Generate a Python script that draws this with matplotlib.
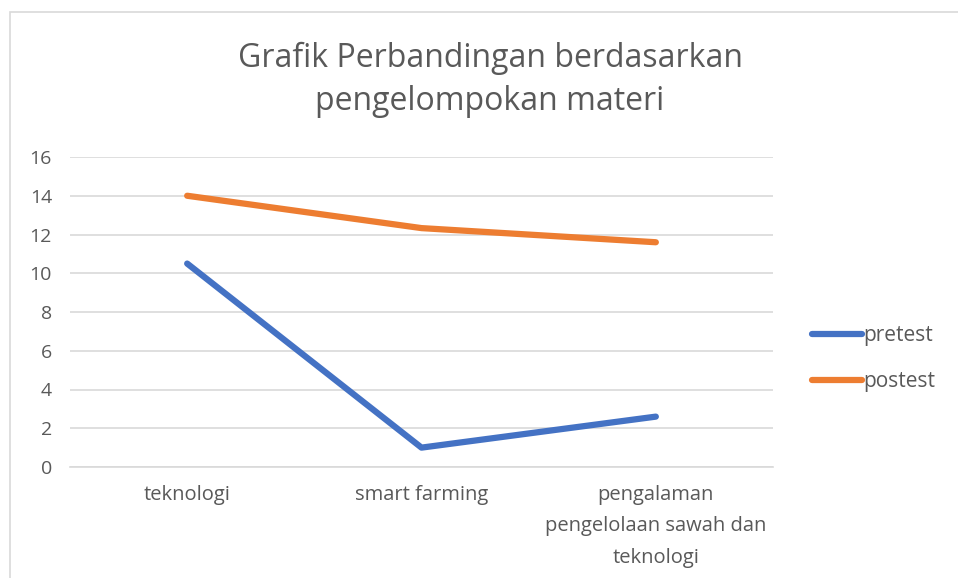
import matplotlib
matplotlib.use("Agg")
import matplotlib.pyplot as plt
from matplotlib.patches import Rectangle

categories = ["teknologi", "smart farming", "pengalaman\npengelolaan sawah dan\nteknologi"]
pretest = [10.5, 1.0, 2.6]
postest = [14.0, 12.33, 11.6]
yticks = [0, 2, 4, 6, 8, 10, 12, 14, 16]

plt.rcParams['font.family'] = ['Open Sans', 'DejaVu Sans']

fig = plt.figure(figsize=(9.58, 5.78), dpi=100)
ax = fig.add_axes([70/958, 111/578, 703/958, 310/578])

# chart area border (cut off at right/bottom like the screenshot)
fig.add_artist(Rectangle((10/958, -0.1), 1.2, 1 - 12/578 + 0.1, transform=fig.transFigure,
                         fill=False, edgecolor='#d9d9d9', linewidth=1.2))

x = range(len(categories))
ax.plot(x, pretest, color='#4472c4', linewidth=4.5, solid_capstyle='round', label='pretest')
ax.plot(x, postest, color='#ed7d31', linewidth=4.5, solid_capstyle='round', label='postest')

ax.set_xlim(-0.5, 2.5)
ax.set_ylim(0, 16)
ax.set_yticks(yticks)
ax.set_xticks(list(x))
ax.set_xticklabels(categories, fontsize=14.5, color='#595959', linespacing=1.75)
ax.tick_params(axis='y', labelsize=14, labelcolor='#595959', length=0, pad=13)
ax.tick_params(axis='x', length=0, pad=13)
ax.grid(axis='y', color='#d9d9d9', linewidth=1.2)
ax.set_axisbelow(True)
for s in ['top', 'right', 'left']:
    ax.spines[s].set_visible(False)
ax.spines['bottom'].set_color('#d9d9d9')
ax.spines['bottom'].set_linewidth(1.2)

fig.text(490/958, 1 - 80/578, "Grafik Perbandingan berdasarkan\npengelompokan materi",
         ha='center', va='center', fontsize=23, color='#595959', linespacing=1.38)

leg = ax.legend(loc='center left', bbox_to_anchor=(742/703, 0.35), frameon=False,
                fontsize=15, handlelength=2.4, handletextpad=0.05, labelspacing=1.2,
                borderpad=0, borderaxespad=0)
for t in leg.get_texts():
    t.set_color('#595959')

fig.savefig("out.png", dpi=100)
